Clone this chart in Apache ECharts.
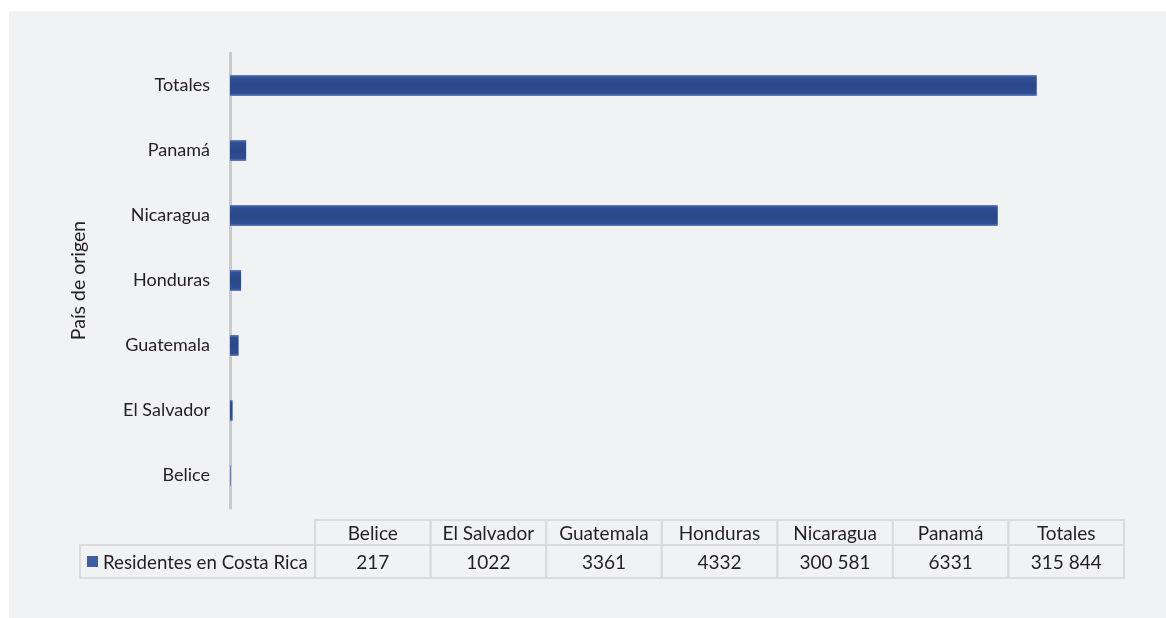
<!DOCTYPE html>
<html>
<head>
<meta charset="utf-8">
<script src="https://cdn.jsdelivr.net/npm/echarts@6/dist/echarts.min.js"></script>
<style>
html,body{margin:0;padding:0;background:#ffffff;}
#c{width:1166px;height:618px;}
</style>
</head>
<body>
<div id="c"></div>
<script>
const categories = ["Belice", "El Salvador", "Guatemala", "Honduras", "Nicaragua", "Panamá", "Totales"];
const values = [217, 1022, 3361, 4332, 300581, 6331, 315844];
const valueLabels = ["217", "1022", "3361", "4332", "300 581", "6331", "315 844"];
const seriesName = "Residentes en Costa Rica";
const axisTitle = "País de origen";

const FONT = "Lato";
const TXT = "#231f20";
const chart = echarts.init(document.getElementById('c'));

// table layout
const tLeft = 80, tColStart = 315, tRight = 1124;
const hTop = 520, hBot = 545, dBot = 578;
const colW = (tRight - tColStart) / categories.length;
const border = "#dadbdd";
const g = [];
g.push({type:'rect', shape:{x:9, y:11, width:1157, height:607}, style:{fill:'#f1f2f4'}, z:-10});
categories.forEach((c, i) => {
  const x = tColStart + i * colW;
  g.push({type:'rect', shape:{x:x, y:hTop, width:colW, height:hBot-hTop}, style:{fill:'none', stroke:border, lineWidth:2}});
  g.push({type:'rect', shape:{x:x, y:hBot, width:colW, height:dBot-hBot}, style:{fill:'none', stroke:border, lineWidth:2}});
  g.push({type:'text', x:x+colW/2, y:(hTop+hBot)/2+1, style:{text:c, fill:TXT, font:'19px '+FONT, textAlign:'center', textVerticalAlign:'middle'}});
  g.push({type:'text', x:x+colW/2, y:(hBot+dBot)/2+1, style:{text:valueLabels[i], fill:TXT, font:'19px '+FONT, textAlign:'center', textVerticalAlign:'middle'}});
});
g.push({type:'rect', shape:{x:tLeft, y:hBot, width:tColStart-tLeft, height:dBot-hBot}, style:{fill:'none', stroke:border, lineWidth:2}});
g.push({type:'rect', shape:{x:87, y:556, width:11, height:11}, style:{fill:'#3d5ea6'}});
g.push({type:'text', x:103, y:(hBot+dBot)/2+1, style:{text:seriesName, fill:TXT, font:'18.7px '+FONT, textAlign:'left', textVerticalAlign:'middle'}});

chart.setOption({
  backgroundColor: 'transparent',
  animation: false,
  graphic: g,
  grid: {left: 230, right: 42, top: 53, bottom: 110},
  xAxis: {type:'value', min:0, max:350000, show:false},
  yAxis: {
    type:'category', data: categories,
    name: axisTitle, nameLocation:'middle', nameRotate:90, nameGap:141,
    nameTextStyle:{color:TXT, fontSize:19.5, fontFamily:FONT},
    axisLine:{show:true, lineStyle:{color:'#c9cacc', width:3}},
    axisTick:{show:false},
    axisLabel:{color:TXT, fontSize:18, fontFamily:FONT, margin:20},
    splitLine:{show:false}
  },
  series: [{
    name: seriesName, type:'bar', data: values, barWidth: 21,
    itemStyle:{
      color: new echarts.graphic.LinearGradient(0,0,0,1,[
        {offset:0, color:'#6580bd'},
        {offset:0.12, color:'#2f4e94'},
        {offset:0.5, color:'#2a4789'},
        {offset:0.88, color:'#2f4e94'},
        {offset:1, color:'#6580bd'}
      ])
    }
  }]
});
</script>
</body>
</html>
